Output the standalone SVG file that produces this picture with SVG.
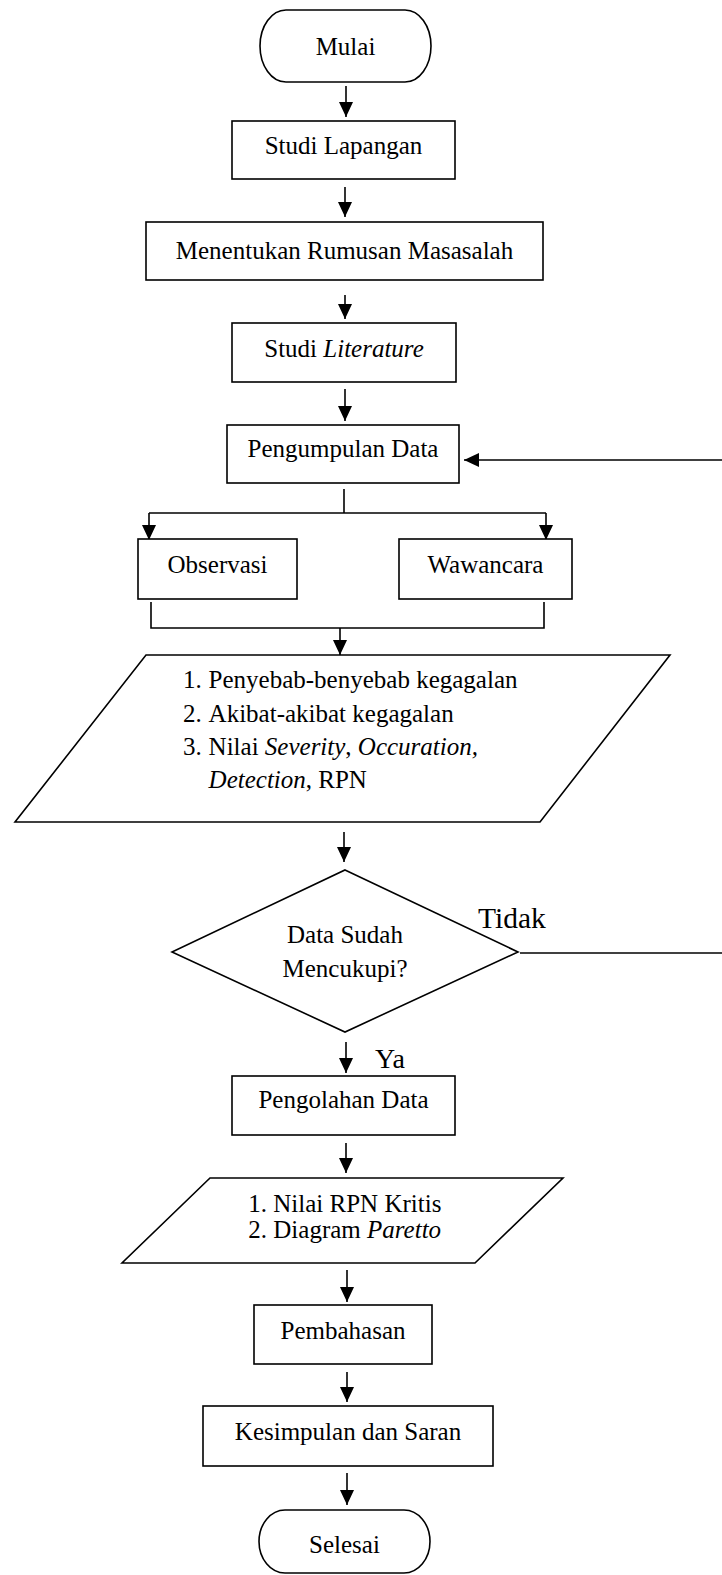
<svg xmlns="http://www.w3.org/2000/svg" width="722" height="1575" viewBox="0 0 722 1575">
<defs>
<style>
.s{fill:#fff;stroke:#000;stroke-width:1.6}
.t{font-family:"Liberation Serif","Times New Roman",serif;font-size:25px;fill:#000}
.c{text-anchor:middle}
.i{font-style:italic}
.l{fill:none;stroke:#000;stroke-width:1.6}
.big{font-family:"Liberation Serif","Times New Roman",serif;font-size:29.5px;fill:#000}
.ya{font-family:"Liberation Serif","Times New Roman",serif;font-size:28px;fill:#000}
</style>
<marker id="ah" markerUnits="userSpaceOnUse" markerWidth="16" markerHeight="16" refX="15" refY="7" orient="auto">
<path d="M0,0 L15,7 L0,14 z" fill="#000"/>
</marker>
</defs>
<rect width="722" height="1575" fill="#fff"/>

<g id="connectors">
<line class="l" x1="346" y1="86" x2="346" y2="117" marker-end="url(#ah)"/>
<line class="l" x1="345" y1="187" x2="345" y2="217" marker-end="url(#ah)"/>
<line class="l" x1="345" y1="295" x2="345" y2="319" marker-end="url(#ah)"/>
<line class="l" x1="345" y1="389" x2="345" y2="421" marker-end="url(#ah)"/>
<line class="l" x1="722" y1="460" x2="464" y2="460" marker-end="url(#ah)"/>
<line class="l" x1="344" y1="489" x2="344" y2="513"/>
<line class="l" x1="149" y1="513" x2="546" y2="513"/>
<line class="l" x1="149" y1="513" x2="149" y2="540" marker-end="url(#ah)"/>
<line class="l" x1="546" y1="513" x2="546" y2="540" marker-end="url(#ah)"/>
<polyline class="l" points="151,602 151,628 544,628 544,602"/>
<line class="l" x1="340" y1="628" x2="340" y2="655" marker-end="url(#ah)"/>
<line class="l" x1="344" y1="832" x2="344" y2="862" marker-end="url(#ah)"/>
<line class="l" x1="520" y1="953" x2="722" y2="953"/>
<line class="l" x1="346" y1="1042" x2="346" y2="1073" marker-end="url(#ah)"/>
<line class="l" x1="346" y1="1143" x2="346" y2="1173" marker-end="url(#ah)"/>
<line class="l" x1="347" y1="1270" x2="347" y2="1302" marker-end="url(#ah)"/>
<line class="l" x1="347" y1="1372" x2="347" y2="1402" marker-end="url(#ah)"/>
<line class="l" x1="347" y1="1473" x2="347" y2="1505" marker-end="url(#ah)"/>
<text class="big" x="478" y="928">Tidak</text>
<text class="ya" x="375" y="1068">Ya</text>
</g>

<g id="mulai">
<rect class="s" x="260" y="10" width="171" height="72" rx="26" ry="36"/>
<text class="t c" x="345.5" y="55">Mulai</text>
</g>
<g id="studi-lapangan">
<rect class="s" x="232" y="121" width="223" height="58"/>
<text class="t c" x="343.5" y="154">Studi Lapangan</text>
</g>
<g id="rumusan">
<rect class="s" x="146" y="222" width="397" height="58"/>
<text class="t c" x="344.5" y="259">Menentukan Rumusan Masasalah</text>
</g>
<g id="studi-literature">
<rect class="s" x="232" y="323" width="224" height="59"/>
<text class="t c" x="344" y="357">Studi <tspan class="i">Literature</tspan></text>
</g>
<g id="pengumpulan">
<rect class="s" x="227" y="425" width="232" height="58"/>
<text class="t c" x="343" y="457">Pengumpulan Data</text>
</g>
<g id="observasi">
<rect class="s" x="138" y="539" width="159" height="60"/>
<text class="t c" x="217.5" y="573">Observasi</text>
</g>
<g id="wawancara">
<rect class="s" x="399" y="539" width="173" height="60"/>
<text class="t c" x="485.5" y="573">Wawancara</text>
</g>
<g id="data-input">
<polygon class="s" points="146,655 670,655 540,822 15,822"/>
<text class="t" y="688"><tspan x="183">1.</tspan><tspan x="208.6">Penyebab-benyebab kegagalan</tspan></text>
<text class="t" y="721.7"><tspan x="183">2.</tspan><tspan x="208.6">Akibat-akibat kegagalan</tspan></text>
<text class="t" y="755"><tspan x="183">3.</tspan><tspan x="208.6">Nilai <tspan class="i">Severity</tspan>, <tspan class="i">Occuration,</tspan></tspan></text>
<text class="t" y="788"><tspan x="208.6" class="i">Detection</tspan>, RPN</text>
</g>
<g id="keputusan">
<polygon class="s" points="345,870 518,952 345,1032 172,952"/>
<text class="t c" x="345" y="943">Data Sudah</text>
<text class="t c" x="345" y="977">Mencukupi?</text>
</g>
<g id="pengolahan">
<rect class="s" x="232" y="1076" width="223" height="59"/>
<text class="t c" x="343.5" y="1108">Pengolahan Data</text>
</g>
<g id="hasil">
<polygon class="s" points="210,1178 563,1178 475,1263 122,1263"/>
<text class="t" y="1211.7"><tspan x="248.3">1.</tspan><tspan x="273.3">Nilai RPN Kritis</tspan></text>
<text class="t" y="1238"><tspan x="248.3">2.</tspan><tspan x="273.3">Diagram <tspan class="i">Paretto</tspan></tspan></text>
</g>
<g id="pembahasan">
<rect class="s" x="254" y="1305" width="178" height="59"/>
<text class="t c" x="343" y="1339">Pembahasan</text>
</g>
<g id="kesimpulan">
<rect class="s" x="203" y="1406" width="290" height="60"/>
<text class="t c" x="348" y="1440">Kesimpulan dan Saran</text>
</g>
<g id="selesai">
<rect class="s" x="259" y="1510" width="171" height="63" rx="26" ry="31.5"/>
<text class="t c" x="344.5" y="1553">Selesai</text>
</g>
</svg>
